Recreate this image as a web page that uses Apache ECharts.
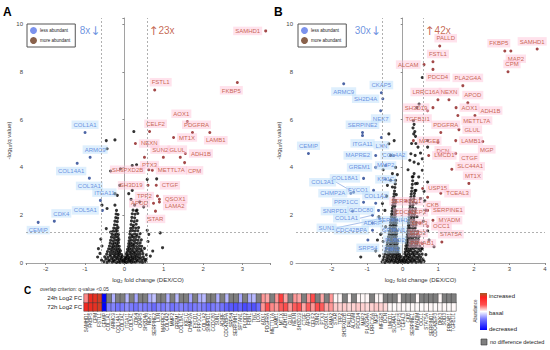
<!DOCTYPE html>
<html><head><meta charset="utf-8">
<script src="https://cdn.jsdelivr.net/npm/echarts/dist/echarts.min.js"></script>
<style>html,body{margin:0;padding:0;background:#fff}#c{width:550px;height:350px}</style>
</head><body><div id="c"></div>
<script>
// ---------------- DATA ----------------
const foldLines = [-0.585, 0.585];
const qLine = 1.3;
const countsA = ['8x', '23x'];
const countsB = ['30x', '42x'];

const cloudA = [
[-0.52,0.06],[-0.44,0.03],[-0.38,0.08],[-0.31,0.04],[-0.26,0.07],[-0.2,0.02],[-0.15,0.06],[-0.11,0.03],[-0.06,0.08],[-0.02,0.04],[0.02,0.07],[0.05,0.02],[0.1,0.05],[0.14,0.08],[0.18,0.03],[0.23,0.06],[0.28,0.04],[0.33,0.08],[0.39,0.05],[0.46,0.03],[0.53,0.07],
[-0.47,0.16],[-0.4,0.13],[-0.33,0.17],[-0.28,0.12],[-0.22,0.15],[-0.17,0.18],[-0.12,0.14],[-0.08,0.17],[-0.03,0.13],[0.01,0.16],[0.04,0.19],[0.08,0.14],[0.12,0.17],[0.17,0.13],[0.21,0.16],[0.26,0.18],[0.31,0.14],[0.37,0.17],[0.44,0.13],[0.5,0.16],
[-0.5,0.26],[-0.42,0.24],[-0.35,0.28],[-0.29,0.23],[-0.24,0.27],[-0.19,0.25],[-0.14,0.29],[-0.09,0.24],[-0.05,0.27],[0.03,0.25],[0.07,0.28],[0.11,0.23],[0.16,0.27],[0.2,0.24],[0.25,0.28],[0.3,0.25],[0.35,0.27],[0.41,0.23],[0.48,0.26],
[-0.45,0.37],[-0.37,0.35],[-0.31,0.39],[-0.26,0.34],[-0.21,0.38],[-0.16,0.36],[-0.12,0.4],[-0.07,0.35],[0.05,0.38],[0.09,0.34],[0.14,0.39],[0.19,0.36],[0.24,0.4],[0.29,0.35],[0.34,0.38],[0.4,0.36],[0.47,0.39],[0.56,0.34],
[-0.43,0.48],[-0.36,0.46],[-0.3,0.5],[-0.25,0.45],[-0.19,0.49],[-0.15,0.47],[-0.1,0.51],[0.07,0.46],[0.12,0.5],[0.17,0.47],[0.22,0.51],[0.27,0.46],[0.33,0.49],[0.39,0.47],[0.45,0.5],
[-0.4,0.59],[-0.34,0.57],[-0.28,0.61],[-0.23,0.56],[-0.18,0.6],[-0.13,0.58],[0.08,0.57],[0.13,0.61],[0.18,0.58],[0.24,0.62],[0.3,0.57],[0.36,0.6],[0.42,0.58],[0.51,0.61],
[-0.38,0.71],[-0.32,0.68],[-0.27,0.72],[-0.22,0.69],[-0.17,0.73],[-0.13,0.7],[0.1,0.69],[0.15,0.73],[0.2,0.7],[0.25,0.74],[0.31,0.69],[0.38,0.72],[0.44,0.7],
[-0.36,0.83],[-0.3,0.8],[-0.25,0.84],[-0.2,0.81],[-0.15,0.85],[0.11,0.81],[0.16,0.84],[0.21,0.8],[0.27,0.85],[0.33,0.82],[0.4,0.84],
[-0.35,0.95],[-0.29,0.93],[-0.23,0.97],[-0.18,0.94],[-0.14,0.98],[0.12,0.93],[0.17,0.97],[0.23,0.94],[0.29,0.98],[0.35,0.95],[0.43,0.97],
[-0.33,1.08],[-0.27,1.06],[-0.21,1.1],[-0.16,1.07],[0.13,1.06],[0.19,1.1],[0.24,1.07],[0.3,1.11],[0.37,1.08],
[-0.31,1.2],[-0.25,1.18],[-0.2,1.22],[-0.15,1.19],[0.14,1.21],[0.2,1.18],[0.26,1.22],[0.32,1.19],[0.4,1.23],
[-0.29,1.33],[-0.23,1.31],[-0.18,1.35],[0.15,1.32],[0.21,1.36],[0.27,1.33],[0.34,1.35],
[-0.27,1.46],[-0.21,1.44],[-0.16,1.48],[0.16,1.45],[0.22,1.49],[0.29,1.46],[0.36,1.48],
[-0.25,1.6],[-0.19,1.58],[0.17,1.61],[0.23,1.58],[0.3,1.62],
[-0.24,1.75],[-0.18,1.73],[0.18,1.76],[0.25,1.73],[0.32,1.77],
[-0.22,1.9],[-0.17,1.88],[0.19,1.91],[0.26,1.89],
[-0.21,2.05],[-0.16,2.03],[0.2,2.06],[0.27,2.04],[0.34,2.07],
[-0.2,2.2],[0.22,2.21],[0.3,2.18],
[-0.62,0.4],[-0.57,0.71],[-0.46,1.44],[-0.35,1.29],[0.58,1.37],[0.62,1.2],[0.91,1.26],[0.97,0.64],[0.66,0.29],
[-0.57,2.42],[-0.44,2.28],[-0.24,2.42],[0.17,2.66],[0.26,2.42],[0.32,2.21],[0.39,2.56],[0.49,2.35],
[-0.24,2.9],[-0.18,2.83],[0.11,2.9],[0.2,3.04],[-0.12,3.25],[0.58,3.5],[0.82,3.52],[-0.35,3.85],[-0.1,3.94],
[0.2,4.08],[0.31,4.11],[-0.44,4.78],[-0.46,5.12],[-0.24,5.15],[0.24,5.5],[0.6,0.9],[-0.6,1.0],[0.55,0.15],
[-0.58,0.12],[0.72,0.5],[-0.68,0.25],[-0.66,0.6]
];

const cloudB = [
[-0.58,0.05],[-0.5,0.02],[-0.43,0.07],[-0.37,0.04],[-0.31,0.08],[-0.25,0.03],[-0.19,0.06],[-0.14,0.02],[-0.09,0.07],[-0.04,0.04],[0.01,0.08],[0.05,0.03],[0.1,0.06],[0.15,0.02],[0.2,0.07],[0.26,0.04],[0.32,0.08],[0.38,0.03],[0.45,0.06],[0.52,0.04],[0.6,0.07],
[-0.55,0.15],[-0.47,0.12],[-0.4,0.17],[-0.34,0.13],[-0.28,0.16],[-0.22,0.12],[-0.17,0.18],[-0.12,0.14],[-0.07,0.16],[-0.02,0.12],[0.03,0.17],[0.08,0.13],[0.13,0.15],[0.18,0.18],[0.23,0.12],[0.29,0.16],[0.35,0.14],[0.42,0.17],[0.49,0.13],[0.57,0.15],
[-0.53,0.26],[-0.45,0.23],[-0.38,0.28],[-0.32,0.24],[-0.26,0.27],[-0.2,0.23],[-0.15,0.29],[-0.1,0.25],[-0.05,0.27],[0.04,0.24],[0.09,0.28],[0.14,0.25],[0.19,0.27],[0.25,0.23],[0.31,0.28],[0.37,0.25],[0.44,0.26],[0.51,0.24],
[-0.5,0.37],[-0.43,0.34],[-0.36,0.39],[-0.3,0.35],[-0.24,0.38],[-0.19,0.34],[-0.14,0.4],[-0.09,0.36],[0.06,0.38],[0.11,0.34],[0.16,0.39],[0.21,0.35],[0.27,0.38],[0.33,0.36],[0.4,0.39],[0.47,0.35],[0.55,0.37],
[-0.48,0.49],[-0.41,0.46],[-0.35,0.5],[-0.29,0.47],[-0.23,0.51],[-0.18,0.46],[-0.13,0.49],[0.07,0.47],[0.12,0.51],[0.17,0.48],[0.23,0.5],[0.29,0.46],[0.35,0.49],[0.42,0.47],[0.5,0.5],
[-0.46,0.61],[-0.39,0.58],[-0.33,0.62],[-0.27,0.59],[-0.22,0.63],[-0.17,0.58],[-0.12,0.61],[0.08,0.59],[0.13,0.62],[0.19,0.58],[0.25,0.61],[0.31,0.6],[0.38,0.63],[0.45,0.59],[0.53,0.61],
[-0.44,0.73],[-0.38,0.7],[-0.32,0.74],[-0.26,0.71],[-0.21,0.75],[-0.16,0.7],[0.09,0.72],[0.14,0.75],[0.2,0.71],[0.26,0.74],[0.33,0.72],[0.4,0.75],[0.48,0.71],
[-0.43,0.85],[-0.36,0.82],[-0.3,0.86],[-0.25,0.83],[-0.2,0.87],[-0.15,0.82],[0.1,0.84],[0.15,0.87],[0.21,0.83],[0.28,0.86],[0.35,0.84],[0.42,0.86],
[-0.41,0.97],[-0.35,0.94],[-0.29,0.98],[-0.24,0.95],[-0.19,0.99],[-0.14,0.94],[0.11,0.96],[0.17,0.99],[0.23,0.95],[0.29,0.98],[0.36,0.96],[0.44,0.98],
[-0.4,1.09],[-0.34,1.06],[-0.28,1.1],[-0.23,1.07],[-0.18,1.11],[0.12,1.08],[0.18,1.11],[0.24,1.07],[0.31,1.1],[0.38,1.08],[0.46,1.11],
[-0.38,1.21],[-0.32,1.18],[-0.27,1.22],[-0.22,1.19],[-0.17,1.23],[0.13,1.2],[0.19,1.23],[0.25,1.19],[0.32,1.22],[0.4,1.2],
[-0.37,1.33],[-0.31,1.3],[-0.26,1.34],[-0.21,1.31],[-0.16,1.35],[0.14,1.32],[0.2,1.35],[0.27,1.31],[0.34,1.34],[0.42,1.32],
[-0.36,1.45],[-0.3,1.42],[-0.25,1.46],[-0.2,1.43],[0.15,1.44],[0.21,1.47],[0.28,1.43],[0.35,1.46],
[-0.35,1.57],[-0.29,1.54],[-0.24,1.58],[-0.19,1.55],[0.16,1.56],[0.22,1.59],[0.29,1.55],[0.37,1.58],
[-0.34,1.69],[-0.28,1.66],[-0.23,1.7],[-0.18,1.67],[0.16,1.68],[0.23,1.71],[0.3,1.67],[0.38,1.7],
[-0.33,1.81],[-0.27,1.78],[-0.22,1.82],[-0.17,1.79],[0.17,1.8],[0.24,1.83],[0.31,1.79],
[-0.32,1.93],[-0.26,1.9],[-0.21,1.94],[0.18,1.92],[0.25,1.95],[0.32,1.91],[0.4,1.94],
[-0.31,2.05],[-0.25,2.02],[-0.2,2.06],[0.18,2.04],[0.26,2.07],[0.33,2.03],
[-0.3,2.17],[-0.24,2.14],[-0.19,2.18],[0.19,2.16],[0.27,2.19],[0.35,2.15],
[-0.29,2.29],[-0.23,2.26],[0.2,2.28],[0.28,2.31],[0.36,2.27],
[-0.28,2.41],[-0.22,2.38],[0.21,2.4],[0.29,2.43],
[-0.27,2.53],[-0.21,2.5],[0.21,2.52],[0.3,2.55],[0.38,2.51],
[-0.26,2.65],[-0.2,2.62],[0.22,2.64],[0.31,2.67],
[-0.25,2.77],[0.23,2.76],[0.32,2.79],
[-0.24,2.89],[-0.18,2.86],[0.24,2.88],[0.33,2.91],
[-0.23,3.01],[0.25,3.0],[0.34,3.03],
[-0.22,3.16],[0.26,3.14],[-0.21,3.31],[0.27,3.29],[0.36,3.32],[-0.2,3.46],[0.28,3.44],[0.29,3.61],
[0.55,7.76],[0.46,6.65],[0.4,6.5],[0.3,5.95],[0.32,5.8],[0.29,5.65],[0.34,5.5],[0.31,5.4],[0.36,5.3],
[-0.39,5.4],[-0.24,5.12],[-0.39,4.99],[0.37,5.0],[0.43,4.85],[0.7,5.12],[0.7,4.85],
[-0.29,3.74],[-0.34,3.46],[-0.29,3.18],[-0.43,3.25],[0.27,3.6],[0.32,3.74],[0.41,3.33],[0.37,3.04],[0.7,3.39],
[0.55,4.36],[0.23,4.57],[-0.34,4.5],[0.32,4.22],[0.44,4.15],[0.55,3.88],
[-0.57,2.49],[-0.67,1.93],[-0.48,1.51],[0.65,2.21],[0.7,1.35],[0.74,0.96],[0.88,0.68],[-0.71,0.96],[-0.76,0.51],
[0.55,0.6],[-1.18,0.25],[0.6,3.0],[0.5,2.7],[-0.45,2.8],[-0.5,2.2],[0.58,1.75],[0.62,2.6],[-0.62,1.2],
[-0.55,0.9],[0.65,0.35],[-0.65,0.3],[0.25,5.0],[0.2,4.3],[-0.2,4.0],[-0.15,3.7],[0.45,3.6],[0.5,4.6],
[-0.55,3.9],[0.15,3.9],[0.35,4.5]
];

const upA = [
['SAMHD1',3.59,9.71],['FSTL1',0.77,7.24],['FKBP5',2.87,7.55],['CELF2',0.64,5.5],['AOX1',1.6,5.92],
['PDGFRA',1.73,5.46],['MT1X',1.25,5.25],['LAMB1',2.17,5.46],['NEXN',0.28,5.0],['ADH1B',1.55,4.58],
['SUN2',0.99,4.42],['GLUL',1.42,4.42],['PTX3',0.51,4.42],['CPM',1.53,4.2],['SH3PXD2B',0.62,3.9],
['METTL7A',0.71,3.88],['SH3D19',0.6,3.25],['CTGF',0.81,3.25],['TPP2',0.84,2.8],['QSOX1',0.89,2.67],
['APOD',0.74,2.5],['LAMA2',0.89,2.55],['STAR',0.79,2.17]
];
const downA = [
['COL1A1',-1.0,5.46],['ARMC9',-0.87,4.42],['COL14A1',-1.2,4.17],['COL3A1',-0.89,3.55],
['ITGA11',-0.61,2.62],['COL5A1',-0.56,2.2],['CDK4',-1.78,1.75],['CEMIP',-2.19,1.7]
];
const upB = [
['PALLD',1.04,9.08],['FSTL1',0.85,8.42],['ALCAM',0.6,8.3],['PDCD4',0.85,8.1],['FKBP5',2.87,8.87],
['SAMHD1',3.78,8.95],['MAP2',3.04,8.87],['CPM',2.96,8.0],['PLA2G4A',1.69,7.42],['LRRC16A',0.99,6.83],
['NEXN',1.3,6.83],['APOD',1.83,6.7],['SH3D19',0.85,6.5],['AOX1',1.5,6.5],['ADH1B',2.03,6.17],
['TGFB1I1',0.7,6.37],['METTL7A',1.55,6.17],['PDGFRA',1.07,5.46],['GLUL',1.58,5.58],['LAMB1',1.49,5.12],
['MGP',2.25,5.08],['MFGE8',0.3,5.12],['DCN',0.99,5.04],['LMCD1',0.73,4.5],['CTGF',1.49,4.58],
['SLC44A1',1.38,3.92],['MT1X',1.86,3.33],['USP15',0.56,3.12],['TCEAL3',1.07,2.92],['CKB',0.7,2.75],
['SERPINE1',0.7,2.2],['MYADM',0.85,1.79],['OCC1',0.7,1.54],['STAT5A',1.1,0.88],
['SERPIND1',0.1,2.58],['CDC42EP3',0.22,2.12],['DKK3',0.48,1.67],['SOD3',0.42,1.25],['PRKAB1',0.55,0.82]
];
const downB = [
['ARMC9',-1.66,7.5],['CKAP5',-0.6,7.12],['SH2D4A',-0.56,6.87],['NEK7',-0.62,6.37],['SERPINE2',-1.13,5.46],
['ITGA11',-1.13,5.33],['LXN',-0.6,5.25],['CEMIP',-2.65,4.58],['MAPRE2',-0.76,4.5],['COL4A2',-0.25,4.5],
['MMP2',-0.48,4.08],['GREM1',-0.76,4.0],['COL18A1',-1.1,3.54],['KIF1C',-0.48,3.5],['COL3A1',-1.38,2.96],
['CHMP2A',-1.46,2.92],['FYCO1',-0.82,3.04],['PPP1CC',-1.1,2.54],['COL1A2',-0.76,2.5],['SNRPD1',-1.41,2.17],
['CCDC80',-0.68,2.2],['COL1A1',-0.85,2.0],['SUN1',-0.65,1.85],['ADIRF',-0.85,1.67],['CDC42BPA',-0.85,1.37],
['SRP54',-0.98,0.96],['SERPINH1',-0.27,1.79],['SPTAN1',-0.25,1.38],['PLOD2',-0.22,0.98],['FBN1',-0.3,0.58]
];

const heatRows = ['72h Log2 FC', '24h Log2 FC'];
const genes = [
'SAMHD1','FKBP5','CPM','FSTL1','CEMIP',
'COL1A1','ARMC9','COL14A1','COL3A1','ITGA11','COL5A1','CDK4','CKAP5','SH2D4A','NEK7','SERPINE2','LXN','MAPRE2','COL4A2','MMP2','GREM1','COL18A1','KIF1C','CHMP2A','FYCO1','PPP1CC','COL1A2','SNRPD1','CCDC80','SUN1','ADIRF','CDC42BPA','SRP54','SERPINH1','SPTAN1','PLOD2','FBN1','TNC','LOX',
'AOX1','PDGFRA','METTL7A','LAMB1','MT1X','ADH1B','GLUL','NEXN','SH3D19','CTGF','APOD','CELF2','SUN2','PTX3','QSOX1','LAMA2',
'STAR','TPP2','SH3PXD2B','PALLD','ALCAM','PDCD4','MAP2','PLA2G4A','LRRC16A','MGP','MFGE8','DCN',
'LMCD1','SLC44A1','USP15','TCEAL3','CKB','SERPINE1','MYADM','OCC1','STAT5A','SERPIND1','CDC42EP3','DKK3','SOD3','PRKAB1','TGFB1I1'
];
// null = no difference detected
const fc24 = [
0.8,1.8,1.9,2.2,-3,
null,-0.9,null,null,-0.8,null,-1.0,null,null,-0.9,-0.7,null,null,-0.9,null,-0.8,null,null,-1.0,null,-0.9,-0.8,null,null,-0.9,null,-0.8,null,null,-1.0,null,-0.9,-0.8,null,
0.7,0.6,null,0.7,1.3,0.6,null,0.7,0.6,null,0.7,1.2,null,0.6,null,0.7,
0.05,0.05,null,0.05,null,0.05,0.05,0.05,null,0.05,0.05,null,
null,null,0.05,null,null,null,0.05,null,null,null,null,0.05,null,null,null
];
const fc72 = [
1.7,1.8,1.9,2.2,-3,
-1.5,-1.4,-1.6,-1.5,-1.3,-1.5,-1.6,-1.4,-1.5,-1.5,-1.7,-1.4,-1.5,-1.3,-1.6,-1.5,-1.4,-1.5,-1.6,-1.5,-1.4,-1.5,-1.7,-1.5,-1.4,-1.6,-1.8,-1.9,-2.0,-1.8,-2.1,-1.9,-2.0,-1.7,
0.7,1.2,0.8,0.7,1.1,1.2,0.7,1.1,1.2,0.6,1.1,0.7,1.2,1.1,0.6,0.7,
0.35,0.3,0.35,0.25,0.3,0.35,0.3,0.25,0.3,0.35,0.3,0.25,
0.04,0.03,0.05,0.04,0.03,0.05,0.04,0.03,0.04,0.05,0.03,0.04,0.05,0.03,0.04
];

// ---------------- STYLE ----------------
const FF = 'Liberation Sans, Arial, sans-serif';
const BLUE = '#4a78d8', RED = '#b8452a';
const BLUE_BG = 'rgba(185,222,250,0.6)', RED_BG = 'rgba(255,195,215,0.6)';
const posA = {
 SAMHD1:['left'], FSTL1:['top',[6,0]], FKBP5:['bottom',[-6,0]], CELF2:['top',[6,0]], AOX1:['top',[-6,0]],
 PDGFRA:['top',[4,0]], MT1X:['right'], LAMB1:['bottom',[6,0]], NEXN:['right'], ADH1B:['right'],
 SUN2:['top',[-3,0]], GLUL:['top',[-3,0]], PTX3:['bottom',[5,0]], CPM:['bottom',[10,0]], SH3PXD2B:['left'],
 METTL7A:['right'], SH3D19:['left'], CTGF:['right'], TPP2:['left'], QSOX1:['right'], APOD:['left'],
 LAMA2:['right',[0,4]], STAR:['bottom'],
 COL1A1:['top'], ARMC9:['top',[5,0]], COL14A1:['bottom',[-6,0]], COL3A1:['bottom'], ITGA11:['top',[4,0]],
 COL5A1:['left'], CDK4:['top',[7,0]], CEMIP:['bottom']
};
const posB = {
 PALLD:['top',[6,0]], FSTL1:['top',[5,0]], ALCAM:['left'], PDCD4:['bottom',[5,0]], FKBP5:['top',[-6,0]],
 SAMHD1:['top',[-5,0]], MAP2:['bottom',[5,0]], CPM:['top',[4,0]], PLA2G4A:['top',[5,0]], LRRC16A:['top',[-12,0]],
 NEXN:['top'], APOD:['top',[5,0]], SH3D19:['left'], AOX1:['right'], ADH1B:['right',[0,-5]],
 TGFB1I1:['bottom',[-10,0]], METTL7A:['right',[0,5]], PDGFRA:['top',[5,0]], GLUL:['right'], LAMB1:['right'],
 MGP:['bottom',[4,0]], MFGE8:['right'], DCN:['bottom',[5,0]], LMCD1:['right'], CTGF:['right',[0,4]],
 SLC44A1:['right',[0,-3]], MT1X:['top',[4,0]], USP15:['right'], TCEAL3:['right'], CKB:['bottom',[5,0]],
 SERPINE1:['right'], MYADM:['right'], OCC1:['right'], STAT5A:['top',[9,0]],
 SERPIND1:['inside'], CDC42EP3:['inside'], DKK3:['inside'], SOD3:['inside'], PRKAB1:['inside'],
 ARMC9:['bottom',[-6,0]], CKAP5:['top'], SH2D4A:['left'], NEK7:['bottom',[3,0]], SERPINE2:['top',[7,0]],
 ITGA11:['bottom',[-5,0]], LXN:['bottom',[4,0]], CEMIP:['top',[6,0]], MAPRE2:['left'], COL4A2:['inside'],
 MMP2:['inside'], GREM1:['left'], COL18A1:['left'], KIF1C:['inside'], COL3A1:['inside'],
 CHMP2A:['left'], FYCO1:['left'], PPP1CC:['left'], COL1A2:['top',[4,0]], SNRPD1:['left'],
 CCDC80:['left'], COL1A1:['inside'], SUN1:['inside'], ADIRF:['inside',[-5,4]], CDC42BPA:['left',[0,8]],
 SRP54:['bottom'], SERPINH1:['inside'], SPTAN1:['inside'], PLOD2:['inside'], FBN1:['inside']
};
const leaderB = { COL3A1:[-31,-10], COL1A1:[-26,3], SUN1:[-53,9] };

function labeled(name, arr, pos, ai, dot, txt, bg, leader) {
  return {
    name, type:'scatter', xAxisIndex:ai, yAxisIndex:ai, symbolSize:3, z:4,
    itemStyle:{color:dot}, silent:true, emphasis:{disabled:true},
    data: arr.map(d => {
      const p = pos[d[0]] || ['right'];
      const it = {name:d[0], value:[d[1], d[2]], label:{position:p[0], offset:p[1] || [0,0]}};
      if (leader && leader[d[0]]) it.labelLine = {show:true, lineStyle:{color:'#6f95dc', width:0.6}};
      return it;
    }),
    label:{show:true, formatter:'{b}', fontSize:6, fontFamily:FF, color:txt, backgroundColor:bg, padding:[1.5,2,1,2], distance:2},
    labelLine:{show:false, length2:0},
    labelLayout: leader ? function(p){ const m = leader[p.text]; return m ? {dx:m[0], dy:m[1]} : {}; } : undefined
  };
}
function cloud(arr, ai) {
  return {
    type:'scatter', xAxisIndex:ai, yAxisIndex:ai, symbolSize:3.1, itemStyle:{color:'#000'}, silent:true, z:3,
    data: arr,
    markLine:{silent:true, symbol:'none', label:{show:false}, animation:false,
      lineStyle:{type:[2,2], color:'#9c9c9c', width:0.8},
      data:[{xAxis:foldLines[0]},{xAxis:foldLines[1]},{yAxis:qLine}]}
  };
}
const arrowRich = {
  b:{fontSize:10, fontFamily:FF, color:BLUE}, ba:{fontSize:12, fontFamily:'DejaVu Sans', color:BLUE},
  r:{fontSize:10, fontFamily:FF, color:RED}, ra:{fontSize:12, fontFamily:'DejaVu Sans', color:RED}
};
function counts(c, ai, ytop) {
  return {
    type:'scatter', xAxisIndex:ai, yAxisIndex:ai, symbolSize:0, silent:true, z:5,
    data:[
      {value:[foldLines[0], ytop], label:{position:'left', formatter:'{b|' + c[0] + '}{ba|\u2193}'}},
      {value:[foldLines[1], ytop], label:{position:'right', formatter:'{ra|\u2191}{r|' + c[1] + '}'}}
    ],
    label:{show:true, distance:1, rich:arrowRich}
  };
}
const intOnly = v => (Math.abs(v - Math.round(v)) < 1e-6 ? String(Math.round(v)) : '');
const evenOnly = v => (Math.abs(v/2 - Math.round(v/2)) < 1e-6 ? String(Math.round(v)) : '');
const axCol = '#8a8a8a';
function xVal(gi, min, max, extra) {
  return Object.assign({
    type:'value', gridIndex:gi, min, max, splitLine:{show:false},
    axisLine:{lineStyle:{color:axCol, width:0.8}}, axisTick:{length:2, lineStyle:{color:axCol}},
    axisLabel:{fontSize:6, color:'#444', margin:3, fontFamily:FF, formatter:intOnly},
    name:'log{sub|2} fold change (DEX/CO)', nameLocation:'middle', nameGap:11,
    nameTextStyle:{fontSize:6, color:'#333', fontFamily:FF, rich:{sub:{fontSize:4.2, padding:[3,0,0,0], fontFamily:FF, color:'#333'}}}
  }, extra || {});
}
function yVal(gi) {
  return {
    type:'value', gridIndex:gi, min:0, max:10.25, interval:2, splitLine:{show:false},
    axisLine:{show:true, lineStyle:{color:axCol, width:0.8}}, axisTick:{show:true, length:2, lineStyle:{color:axCol}},
    axisLabel:{fontSize:6, color:'#444', margin:3, fontFamily:FF, formatter:evenOnly},
    name:'-log{sub|10}(q value)', nameLocation:'middle', nameGap:10,
    nameTextStyle:{fontSize:6, color:'#333', fontFamily:FF, rich:{sub:{fontSize:4.2, padding:[3,0,0,0], fontFamily:FF, color:'#333'}}}
  };
}

// heatmap data built from the arrays
const hmVals = [], hmNone = [];
genes.forEach((g, i) => {
  [fc72, fc24].forEach((arr, j) => {
    if (arr[i] === null) hmNone.push([i, j, 0]); else hmVals.push([i, j, arr[i]]);
  });
});

const legendCommon = {
  orient:'vertical', itemWidth:7, itemHeight:7, itemGap:3, icon:'circle', selectedMode:false,
  borderColor:'#555', borderWidth:1, padding:[3,5,3,3],
  textStyle:{fontSize:4.5, fontFamily:FF, color:'#222', padding:[0,0,0,-2]},
  data:[{name:'less abundant', itemStyle:{color:'#5b78e8'}}, {name:'more abundant', itemStyle:{color:'#6b3a1e'}}]
};

const chart = echarts.init(document.getElementById('c'), null, {renderer:'svg'});
chart.setOption({
  animation:false,
  backgroundColor:'#fff',
  grid:[
    {left:26, top:18, width:244, height:245, outerBoundsMode:'none'},
    {left:296, top:18, width:249, height:245, outerBoundsMode:'none'},
    {left:84, top:294, width:372, height:17, outerBoundsMode:'none'}
  ],
  xAxis:[
    xVal(0, -2.5, 3.7),
    xVal(1, -3, 4, {interval:1, axisLabel:{fontSize:6, color:'#444', margin:3, fontFamily:FF, formatter:intOnly, showMinLabel:false}}),
    {type:'category', gridIndex:2, data:genes, axisLine:{show:false}, axisTick:{show:false}, splitLine:{show:false},
     axisLabel:{interval:0, rotate:90, fontSize:4.6, color:'#333', margin:2, fontFamily:FF}}
  ],
  yAxis:[
    yVal(0), yVal(1),
    {type:'category', gridIndex:2, data:heatRows, axisLine:{show:false}, axisTick:{show:false}, splitLine:{show:false},
     axisLabel:{fontSize:6, color:'#222', margin:2, fontFamily:FF}}
  ],
  legend:[
    Object.assign({left:27, top:24}, legendCommon),
    Object.assign({left:298, top:24}, legendCommon)
  ],
  visualMap:{show:false, seriesIndex:8, dimension:2, min:-3, max:3,
    inRange:{color:['#0000ff','#7b7bff','#ffffff','#ff2020','#a0602a']}},
  series:[
    cloud(cloudA, 0),
    labeled('less abundant', downA, posA, 0, '#1f3f8f', BLUE, BLUE_BG),
    labeled('more abundant', upA, posA, 0, '#8b1a1a', RED, RED_BG),
    counts(countsA, 0, 9.72),
    cloud(cloudB, 1),
    labeled('less abundant', downB, posB, 1, '#1f3f8f', BLUE, BLUE_BG, leaderB),
    labeled('more abundant', upB, posB, 1, '#8b1a1a', RED, RED_BG),
    counts(countsB, 1, 9.72),
    {type:'heatmap', xAxisIndex:2, yAxisIndex:2, data:hmVals, silent:true,
     itemStyle:{borderColor:'#3a3a3a', borderWidth:0.5}, emphasis:{disabled:true}},
    {type:'heatmap', xAxisIndex:2, yAxisIndex:2, data:hmNone, silent:true,
     itemStyle:{color:'#7f7f7f', borderColor:'#3a3a3a', borderWidth:0.5}, emphasis:{disabled:true}}
  ],
  graphic:[
    {type:'text', left:3, top:6, style:{text:'A', font:'bold 12px ' + FF, fill:'#000'}},
    {type:'text', left:274, top:6, style:{text:'B', font:'bold 12px ' + FF, fill:'#000'}},
    {type:'text', left:24, top:285, style:{text:'C', font:'bold 10px ' + FF, fill:'#000'}},
    {type:'text', left:40, top:286, style:{text:'overlap criterion: q-value <0.05', font:'5px ' + FF, fill:'#333'}},
    {type:'rect', shape:{x:480, y:293, width:7, height:37}, style:{fill:new echarts.graphic.LinearGradient(0,0,0,1,[
      {offset:0, color:'#a0602a'}, {offset:0.12, color:'#ff2020'}, {offset:0.32, color:'#ff5050'},
      {offset:0.5, color:'#ffffff'}, {offset:0.7, color:'#7b7bff'}, {offset:1, color:'#0000ff'}])}},
    {type:'text', x:489, y:296, style:{text:'increased', font:'6px ' + FF, fill:'#222', verticalAlign:'middle'}},
    {type:'text', x:489, y:313, style:{text:'basal', font:'6px ' + FF, fill:'#222', verticalAlign:'middle'}},
    {type:'text', x:489, y:329, style:{text:'decreased', font:'6px ' + FF, fill:'#222', verticalAlign:'middle'}},
    {type:'text', x:475, y:311, rotation:Math.PI/2, style:{text:'Abundance', font:'4.5px ' + FF, fill:'#333', align:'center', verticalAlign:'middle'}},
    {type:'rect', shape:{x:481, y:339, width:6, height:6}, style:{fill:'#7f7f7f', stroke:'#333', lineWidth:0.6}},
    {type:'text', x:490, y:342, style:{text:'no difference detected', font:'5.5px ' + FF, fill:'#222', verticalAlign:'middle'}}
  ]
});
</script></body></html>
